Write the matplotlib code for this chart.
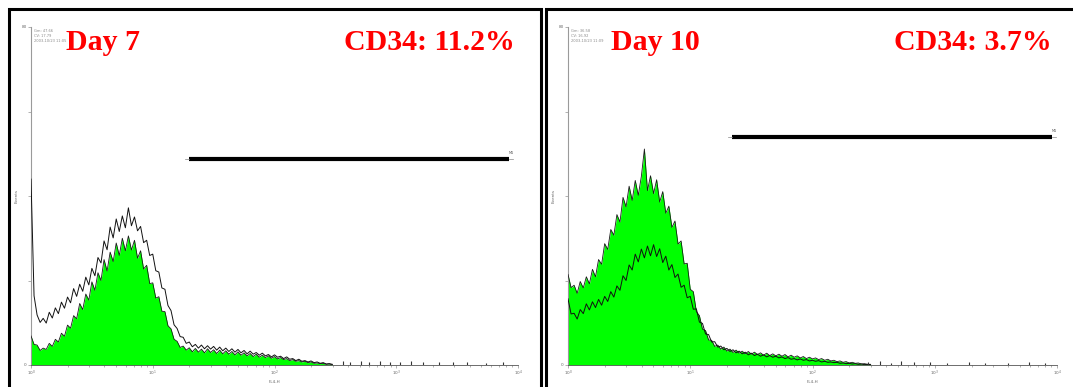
import matplotlib.pyplot as plt
import numpy as np
from matplotlib.patches import Rectangle

# histogram channels: log10 bins of width 0.025 starting at 10^0
bin_width = 0.025

# Day 7 - green filled histogram and black overlay (counts per bin)
day7_green = [
    8.6, 6.1, 5.9, 4.3, 5.0, 4.6, 6.4, 5.5, 7.6, 6.8,
    9.4, 8.5, 11.8, 10.9, 14.6, 13.7, 18.2, 16.4, 21.0, 19.2,
    24.6, 22.1, 27.3, 25.0, 31.2, 27.8, 33.4, 30.6, 36.1, 32.4,
    37.5, 33.8, 38.2, 34.0, 36.9, 31.6, 33.8, 28.4, 29.5, 24.1,
    24.3, 19.8, 20.2, 15.9, 15.8, 11.6, 10.7, 7.6, 7.0, 5.2,
    5.6, 4.4, 5.1, 3.9, 4.9, 3.8, 4.7, 3.6, 4.8, 3.7,
    4.5, 3.4, 4.4, 3.3, 4.2, 3.2, 4.0, 3.0, 3.9, 2.9,
    3.6, 2.7, 3.4, 2.5, 3.2, 2.3, 2.9, 2.2, 2.7, 2.0,
    2.5, 1.8, 2.2, 1.6, 1.9, 1.3, 1.6, 1.1, 1.3, 0.9,
    1.1, 0.7, 0.9, 0.5, 0.6, 0.4, 0.5, 0.2, 0.3, 0.1,
]
day7_black = [
    55.0, 20.5, 14.8, 12.6, 13.8, 12.4, 15.6, 13.9, 16.9, 15.2,
    18.6, 16.8, 20.1, 18.4, 22.6, 20.3, 23.9, 21.8, 26.0, 23.7,
    28.6, 26.4, 31.8, 30.2, 36.7, 34.1, 40.8, 37.6, 43.2, 39.5,
    44.1, 40.6, 46.5, 41.2, 43.8, 39.7, 41.0, 36.2, 36.9, 32.4,
    32.8, 27.9, 27.5, 22.8, 22.4, 17.6, 16.1, 11.9, 10.8, 8.4,
    8.2, 6.4, 6.8, 5.4, 6.1, 5.0, 5.9, 4.8, 5.7, 4.7,
    5.5, 4.4, 5.3, 4.2, 5.0, 4.0, 4.8, 3.8, 4.6, 3.6,
    4.3, 3.3, 4.1, 3.2, 3.7, 2.9, 3.5, 2.7, 3.1, 2.4,
    3.0, 2.3, 2.6, 1.9, 2.4, 1.7, 1.9, 1.3, 1.7, 1.1,
    1.3, 0.9, 1.2, 0.7, 0.9, 0.5, 0.7, 0.3, 0.4, 0.2,
]
day7_tail_log = [2.56, 2.62, 2.71, 2.78, 2.87, 2.95, 3.03, 3.12, 3.22, 3.35, 3.47, 3.58, 3.74, 3.88]
day7_tail_counts = [1.2, 0.9, 1.1, 0.8, 1.3, 1.0, 0.9, 1.2, 0.8, 0.9, 1.0, 0.8, 0.7, 0.9]

# Day 10
day10_green = [
    26.8, 22.9, 23.6, 21.2, 24.7, 22.8, 26.1, 24.0, 28.3, 26.1,
    31.2, 29.8, 35.9, 34.2, 40.1, 38.4, 44.5, 42.3, 49.6, 46.8,
    52.9, 48.7, 54.6, 50.2, 55.8, 63.9, 51.6, 56.0, 50.7, 54.8,
    48.2, 51.3, 44.9, 47.0, 40.7, 42.6, 35.8, 36.7, 29.9, 30.1,
    22.4, 21.7, 15.8, 14.6, 10.6, 10.2, 7.4, 7.3, 5.5, 5.9,
    4.7, 5.3, 4.1, 4.7, 3.7, 4.4, 3.5, 4.1, 3.3, 4.0,
    3.2, 3.8, 3.1, 3.6, 2.9, 3.5, 2.8, 3.3, 2.7, 3.2,
    2.6, 3.1, 2.4, 2.9, 2.3, 2.7, 2.1, 2.5, 1.9, 2.3,
    1.8, 2.1, 1.6, 1.9, 1.4, 1.7, 1.2, 1.4, 1.0, 1.2,
    0.8, 1.0, 0.6, 0.8, 0.5, 0.6, 0.3, 0.4, 0.2, 0.2,
]
day10_black = [
    19.6, 15.1, 15.3, 13.6, 16.4, 15.2, 18.1, 16.3, 18.7, 17.0,
    19.4, 17.7, 20.3, 18.8, 21.7, 20.1, 23.4, 22.1, 26.4, 25.0,
    29.6, 28.1, 32.8, 30.5, 34.3, 31.7, 35.2, 32.3, 35.6, 32.1,
    34.4, 30.3, 32.2, 28.1, 29.7, 25.9, 26.9, 23.0, 23.6, 19.9,
    20.3, 16.5, 16.6, 12.7, 12.3, 9.2, 9.0, 6.8, 6.9, 5.3,
    5.6, 4.5, 4.9, 4.0, 4.5, 3.6, 4.1, 3.3, 3.8, 3.0,
    3.5, 2.8, 3.2, 2.6, 3.0, 2.4, 2.8, 2.3, 2.6, 2.1,
    2.4, 1.9, 2.2, 1.7, 1.9, 1.5, 1.8, 1.4, 1.6, 1.2,
    1.4, 1.1, 1.3, 0.9, 1.1, 0.8, 0.9, 0.7, 0.8, 0.5,
    0.6, 0.4, 0.5, 0.3, 0.4, 0.2, 0.3, 0.1, 0.2, 0.1,
]
day10_tail_log = [2.45, 2.55, 2.64, 2.72, 2.83, 2.96, 3.10, 3.28, 3.41, 3.60, 3.77, 3.90]
day10_tail_counts = [0.9, 1.1, 0.7, 1.2, 0.8, 0.9, 0.7, 0.8, 0.6, 0.7, 0.8, 0.6]

# M1 gate (lower, upper channel) and its height in counts
day7_gate = (19.9, 8430.0, 60.9)
day10_gate = (22.0, 9100.0, 67.5)

day_labels = ["Day 7", "Day 10"]
cd34_labels = ["CD34: 11.2%", "CD34: 3.7%"]
stats = [["Gm: 47.66", "CV: 17.79", "2003-10/23 11:05"],
         ["Gm: 36.58", "CV: 16.92", "2003-10/23 11:09"]]

W, H = 1073, 387
fig = plt.figure(figsize=(W / 100, H / 100), dpi=100)
fig.patch.set_facecolor("white")


def fx(px):
    return px / W


def fy(py):
    return 1 - py / H


# panel frames
fig.patches.append(Rectangle((fx(9), fy(400)), fx(532), fy(9) - fy(400),
                             transform=fig.transFigure, fill=False,
                             edgecolor="black", lw=2.2))
fig.patches.append(Rectangle((fx(546), fy(400)), fx(540), fy(9) - fy(400),
                             transform=fig.transFigure, fill=False,
                             edgecolor="black", lw=2.2))

panels = [
    (31, 518, day7_green, day7_black, day7_tail_log, day7_tail_counts, day7_gate, 66, 515),
    (568, 1057, day10_green, day10_black, day10_tail_log, day10_tail_counts, day10_gate, 611, 1052),
]

for k, (x0, x1, green, black, tlog, tcnt, gate, tx, rx) in enumerate(panels):
    ax = fig.add_axes([fx(x0), fy(365), fx(x1 - x0), fy(27) - fy(365)])
    # channel positions (left edge of each bin, in linear units)
    xg = 10 ** (np.arange(len(green)) * bin_width)
    xb = 10 ** (np.arange(len(black)) * bin_width)
    ax.fill_between(xg, 0, green, color="#00ff00", lw=0, zorder=2)
    ax.plot(xg, green, color="#1a1a1a", lw=0.6, zorder=3)
    ax.plot(xb, black, color="#111111", lw=0.7, zorder=4)
    ax.vlines(10 ** np.array(tlog), 0, tcnt, color="#333333", lw=0.8, zorder=4)

    # gate marker
    lo, hi, gy = gate
    ax.plot([lo, hi], [gy, gy], color="black", lw=3, solid_capstyle="butt", zorder=5)
    ax.plot([lo * 0.93, lo], [gy, gy], color="#888888", lw=0.5, zorder=5)
    ax.plot([hi, hi * 1.08], [gy, gy], color="#888888", lw=0.5, zorder=5)
    ax.text(hi, gy + 1.2, "M1", fontsize=2.5, color="#555555", ha="left", va="bottom")

    ax.set_xscale("log")
    ax.set_xlim(1, 1e4)
    ax.set_ylim(0, 100)
    ax.set_facecolor("white")
    for side in ["top", "right"]:
        ax.spines[side].set_visible(False)
    ax.spines["left"].set_color("#9a9a9a")
    ax.spines["left"].set_linewidth(0.8)
    ax.spines["bottom"].set_color("#555555")
    ax.spines["bottom"].set_linewidth(0.6)
    ax.set_xticks([1, 10, 100, 1000, 10000])
    ax.set_xticklabels([r"$10^0$", r"$10^1$", r"$10^2$", r"$10^3$", r"$10^4$"])
    ax.set_yticks([0, 25, 50, 75, 100])
    ax.set_yticklabels(["0", "", "", "", "80"])
    ax.tick_params(axis="both", which="major", length=2, width=0.4,
                   color="#777777", labelsize=3, labelcolor="#666666", pad=1)
    ax.tick_params(axis="x", which="minor", length=1.5, width=0.4, color="#777777")
    ax.set_xlabel("FL4-H", fontsize=3, color="#666666", labelpad=1)
    ax.set_ylabel("Events", fontsize=3, color="#666666", labelpad=2)

    # acquisition stats in the corner
    for j, s in enumerate(stats[k]):
        fig.text(fx(x0 + 3), fy(31 + j * 5), s, fontsize=2.6, color="#8a8a8a",
                 ha="left", va="center")

    fig.text(fx(tx), fy(50), day_labels[k], fontsize=21.5, color="#ff0000",
             family="Liberation Serif", weight="bold", ha="left", va="baseline")
    fig.text(fx(rx), fy(50), cd34_labels[k], fontsize=21.5, color="#ff0000",
             family="Liberation Serif", weight="bold", ha="right", va="baseline")

fig.savefig("out.png", dpi=100, facecolor="white")
